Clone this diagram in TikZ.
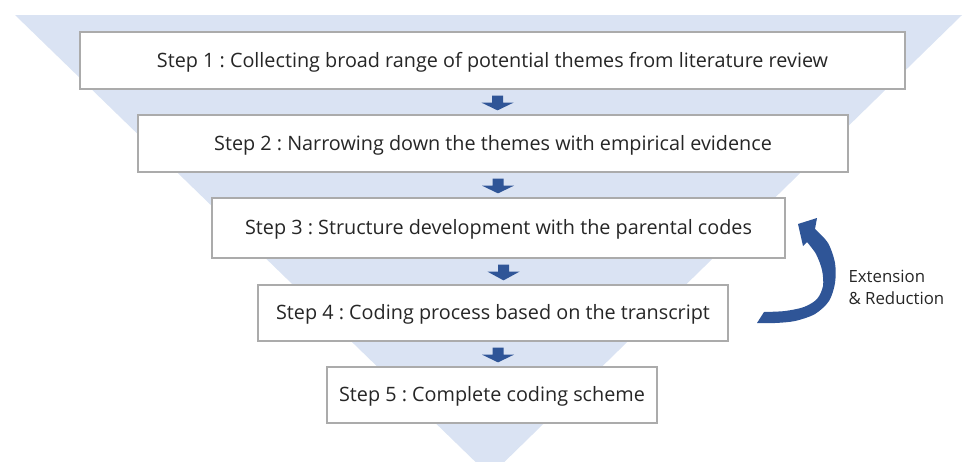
\documentclass[tikz,border=0pt]{standalone}
\usepackage{fontspec}
\setmainfont{Open Sans}
\usetikzlibrary{calc}
\definecolor{funnel}{HTML}{DAE3F3}
\definecolor{arrowblue}{HTML}{2F5597}
\definecolor{boxline}{HTML}{ABABAB}
\definecolor{txt}{HTML}{262626}
\tikzset{
  stepbox/.style={draw=boxline, line width=1.3pt, fill=white, inner sep=0pt},
  steptext/.style={text=txt, font=\fontsize{19.8}{22}\selectfont, yshift=-1.5pt},
  downarrow/.style={fill=arrowblue},
}
\frenchspacing
\begin{document}
\begin{tikzpicture}[x=1pt,y=-1pt]
\useasboundingbox (0,0) rectangle (973,461);
% funnel
\fill[funnel] (15,15) -- (962,15) -- (490,476) -- cycle;
% boxes
\node[stepbox, minimum width=825pt, minimum height=57pt] (s1) at (492.5,60.5) {};
\node[stepbox, minimum width=710pt, minimum height=57pt] (s2) at (493,143.5) {};
\node[stepbox, minimum width=573pt, minimum height=60pt] (s3) at (498.5,228) {};
\node[stepbox, minimum width=470pt, minimum height=56pt] (s4) at (493,313) {};
\node[stepbox, minimum width=330pt, minimum height=56pt] (s5) at (492,395) {};
\node[steptext] (t1) at (s1.center) {Step 1 : Collecting broad range of potential themes from literature review};
\node[steptext] (t2) at (s2.center) {Step 2 : Narrowing down the themes with empirical evidence};
\node[steptext] (t3) at (s3.center) {Step 3 : Structure development with the parental codes};
\node[steptext] (t4) at (s4.center) {Step 4 : Coding process based on the transcript};
\node[steptext] (t5) at (s5.center) {Step 5 : Complete coding scheme};
% down arrows
\foreach \a/\b in {s1/s2, s2/s3, s3/s4, s4/s5}{
  \path (\a.south) ++(5,6) coordinate (st);
  \path (\b.north) ++(0,-4) coordinate (tp);
  \fill[downarrow] ($(st)+(-5.5,0)$) -- ($(st)+(5.5,0)$) -- ($(st)+(5.5,7)$) -- ($(st)+(16,7)$)
     -- (tp -| st) -- ($(st)+(-16,7)$) -- ($(st)+(-5.5,7)$) -- cycle;
}
% curved arrow
\fill[arrowblue] plot[smooth] coordinates {(764,312) (785,311) (804,307) (817,299) (823,286) (822,270) (816,254) (807,242)}
  -- (803,246) -- (798,224) -- (817,218)
  -- plot[smooth] coordinates {(815,229) (828,243) (835,263) (835,283) (829,301) (815,314) (795,321) (775,323) (757,323)} -- cycle;
\node[text=txt, font=\fontsize{16.8}{22}\selectfont, align=left, anchor=west] (er) at (845,287) {Extension\\\& Reduction};
\end{tikzpicture}
\end{document}
